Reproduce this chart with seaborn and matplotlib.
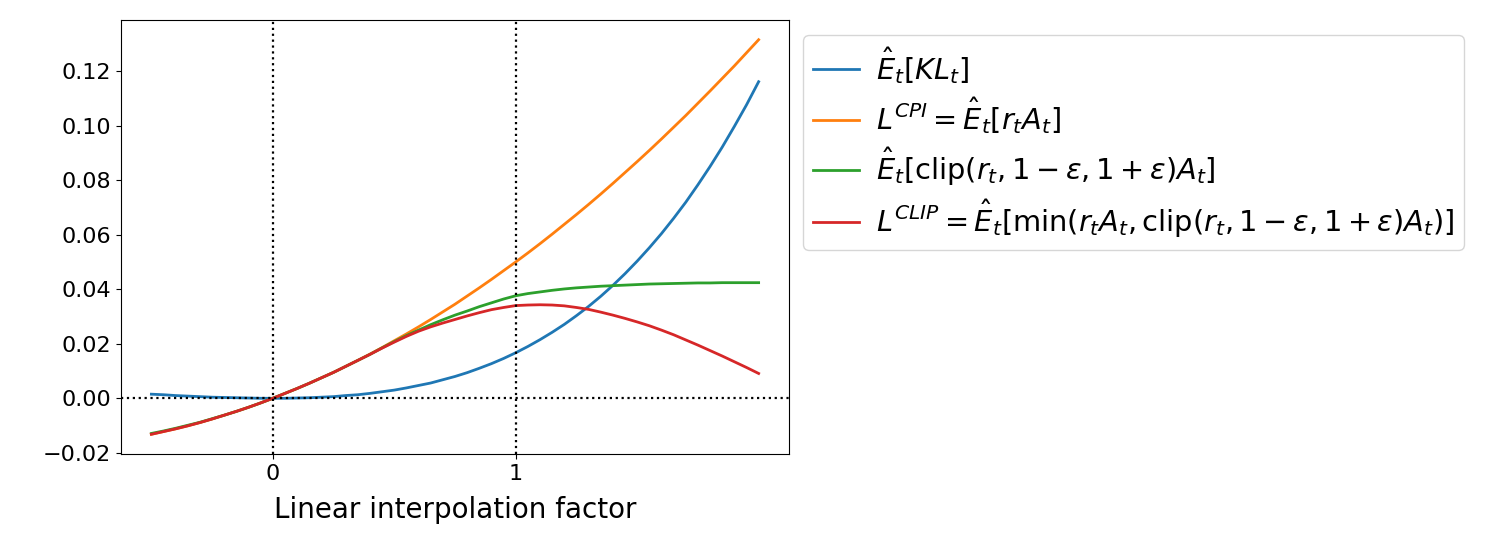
import matplotlib
matplotlib.use('Agg')
from matplotlib import pyplot as plt
import seaborn as sns
import pandas as pd

# values (every 0.05 along the x axis)
factor = [-0.5, -0.45, -0.4, -0.35, -0.3, -0.25, -0.2, -0.15, -0.1, -0.05,
          0.0, 0.05, 0.1, 0.15, 0.2, 0.25, 0.3, 0.35, 0.4, 0.45,
          0.5, 0.55, 0.6, 0.65, 0.7, 0.75, 0.8, 0.85, 0.9, 0.95,
          1.0, 1.05, 1.1, 1.15, 1.2, 1.25, 1.3, 1.35, 1.4, 1.45,
          1.5, 1.55, 1.6, 1.65, 1.7, 1.75, 1.8, 1.85, 1.9, 1.95, 2.0]

kl = [0.0015, 0.0013, 0.0010, 0.0008, 0.0006, 0.0004, 0.0003, 0.0002, 0.0001, 0.0000,
      0.0, 0.0000, 0.0001, 0.0002, 0.0004, 0.0006, 0.0010, 0.0013, 0.0018, 0.0024,
      0.0030, 0.0038, 0.0047, 0.0056, 0.0068, 0.0080, 0.0094, 0.0110, 0.0127, 0.0146,
      0.0167, 0.0190, 0.0215, 0.0242, 0.0271, 0.0303, 0.0337, 0.0374, 0.0414, 0.0457,
      0.0503, 0.0552, 0.0604, 0.0660, 0.0719, 0.0783, 0.0850, 0.0921, 0.0997, 0.1076, 0.1161]

cpi = [-0.0132, -0.0122, -0.0112, -0.0101, -0.0089, -0.0076, -0.0062, -0.0048, -0.0033, -0.0017,
       0.0, 0.0018, 0.0036, 0.0055, 0.0075, 0.0095, 0.0117, 0.0139, 0.0162, 0.0186,
       0.0211, 0.0236, 0.0262, 0.0289, 0.0317, 0.0345, 0.0375, 0.0405, 0.0436, 0.0468,
       0.0500, 0.0533, 0.0567, 0.0602, 0.0638, 0.0674, 0.0711, 0.0749, 0.0788, 0.0828,
       0.0868, 0.0909, 0.0951, 0.0994, 0.1037, 0.1082, 0.1127, 0.1173, 0.1219, 0.1267, 0.1315]

clipped = [-0.0129, -0.0120, -0.0110, -0.0099, -0.0088, -0.0075, -0.0062, -0.0048, -0.0033, -0.0017,
           0.0, 0.0018, 0.0036, 0.0055, 0.0075, 0.0095, 0.0117, 0.0139, 0.0161, 0.0185,
           0.0208, 0.0230, 0.0250, 0.0270, 0.0288, 0.0305, 0.0320, 0.0336, 0.0350, 0.0364,
           0.0376, 0.0384, 0.0390, 0.0396, 0.0401, 0.0405, 0.0408, 0.0411, 0.0413, 0.0415,
           0.0417, 0.0419, 0.0420, 0.0421, 0.0422, 0.0423, 0.0423, 0.0424, 0.0424, 0.0424, 0.0424]

lclip = [-0.0132, -0.0122, -0.0112, -0.0101, -0.0089, -0.0076, -0.0062, -0.0048, -0.0033, -0.0017,
         0.0, 0.0018, 0.0036, 0.0055, 0.0075, 0.0095, 0.0117, 0.0139, 0.0161, 0.0184,
         0.0206, 0.0227, 0.0246, 0.0262, 0.0276, 0.0289, 0.0302, 0.0314, 0.0325, 0.0333,
         0.0340, 0.0342, 0.0343, 0.0342, 0.0339, 0.0333, 0.0326, 0.0316, 0.0305, 0.0293,
         0.0280, 0.0266, 0.0250, 0.0233, 0.0214, 0.0195, 0.0175, 0.0155, 0.0134, 0.0113, 0.0091]

labels = [r'$\hat{E}_t[KL_t]$',
          r'$L^{CPI} = \hat{E}_t[r_t A_t]$',
          r'$\hat{E}_t[\mathrm{clip}(r_t, 1-\varepsilon, 1+\varepsilon)A_t]$',
          r'$L^{CLIP} = \hat{E}_t[\min(r_t A_t, \mathrm{clip}(r_t, 1-\varepsilon, 1+\varepsilon)A_t)]$']
colors = ['#1f77b4', '#ff7f0e', '#2ca02c', '#d62728']

rows = []
for lab, vals in zip(labels, [kl, cpi, clipped, lclip]):
    for x, y in zip(factor, vals):
        rows.append([x, lab, y])
df = pd.DataFrame(rows, columns=['factor', 'curve', 'value'])

fig = plt.figure(figsize=(14.97, 5.57), dpi=100)
ax = fig.add_axes([121 / 1497, 1 - 454 / 557, 668 / 1497, 434 / 557])

sns.lineplot(data=df, x='factor', y='value', hue='curve', hue_order=labels,
             palette=colors, linewidth=2, ax=ax)

ax.axvline(0, color='k', linestyle=':', linewidth=1.6)
ax.axvline(1, color='k', linestyle=':', linewidth=1.6)
ax.axhline(0, color='k', linestyle=':', linewidth=1.6)

ax.set_xticks([0, 1])
ax.tick_params(labelsize=16)
ax.set_xlabel('Linear interpolation factor', fontsize=20, labelpad=9)
ax.set_ylabel('')

handles, _ = ax.get_legend_handles_labels()
ax.legend(handles, labels, loc='upper left', bbox_to_anchor=(1.021, 0.9654),
          borderaxespad=0, fontsize=20.8, handlelength=1.6, handletextpad=0.58,
          borderpad=0.34, labelspacing=0.34)

fig.savefig('out.png', dpi=100)
